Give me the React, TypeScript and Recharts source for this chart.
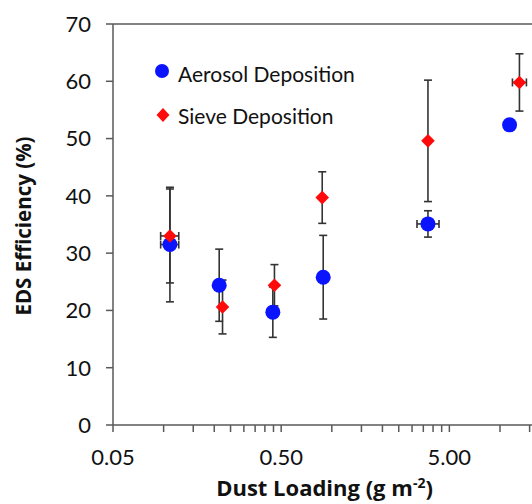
import { ScatterChart, Scatter, XAxis, YAxis, ErrorBar, ReferenceLine, Legend, Label } from "recharts";

// Dust loading (g m-2) and EDS efficiency (%)
const aerosolLoading = [0.109, 0.214, 0.446, 0.889, 3.73, 11.4];
const aerosolEfficiency = [31.5, 24.4, 19.7, 25.8, 35.1, 52.4];
const aerosolEfficiencyErr = [10.0, 6.3, 4.4, 7.3, 2.3, 0];
const aerosolLoadingErr = [[0.013, 0.014], [0, 0], [0, 0], [0, 0], [0.52, 0.61], [0, 0]];

const sieveLoading = [0.109, 0.224, 0.456, 0.877, 3.73, 13.05];
const sieveEfficiency = [33.0, 20.6, 24.4, 39.7, 49.6, 59.8];
const sieveEfficiencyErr = [8.2, 4.7, 3.6, 4.5, 10.6, 5.0];
const sieveLoadingErr = [[0.013, 0.014], [0, 0], [0, 0], [0, 0], [0, 0], [1.19, 1.31]];

const xTicks = [
  0.05, 0.1, 0.15, 0.2, 0.25, 0.3, 0.35, 0.4, 0.45, 0.5,
  1, 1.5, 2, 2.5, 3, 3.5, 4, 4.5, 5, 10, 15,
];
const xLabelTicks = [0.05, 0.5, 5];
const yTicks = [0, 10, 20, 30, 40, 50, 60, 70];

const FONT = "Lato, 'Open Sans', sans-serif";
const TITLE_FONT = "'Open Sans', Lato, sans-serif";
const INK = "#111";
const AXIS = "#595959";
const BAR = "#333";
const BLUE = "#0a14ff";
const RED = "#ff0a0a";

const aerosolData = aerosolLoading.map((x, i) => ({
  x,
  y: aerosolEfficiency[i],
  yErr: aerosolEfficiencyErr[i],
  xErr: aerosolLoadingErr[i],
}));
const sieveData = sieveLoading.map((x, i) => ({
  x,
  y: sieveEfficiency[i],
  yErr: sieveEfficiencyErr[i],
  xErr: sieveLoadingErr[i],
}));

const Dot = (p: any) => <circle cx={p.cx} cy={p.cy} r={7.5} fill={BLUE} />;

const Diamond = (p: any) => {
  const s = 6.8;
  return (
    <polygon
      points={`${p.cx},${p.cy - s} ${p.cx + s},${p.cy} ${p.cx},${p.cy + s} ${p.cx - s},${p.cy}`}
      fill={RED}
    />
  );
};

const XTick = (props: any) => {
  const { x, y, payload } = props;
  if (!xLabelTicks.includes(payload.value)) return <g />;
  return (
    <text x={x} y={y + 33} textAnchor="middle" fontSize={22} fill={INK} fontFamily={FONT}>
      {payload.value.toFixed(2)}
    </text>
  );
};

const LegendBox = () => (
  <svg width={240} height={80}>
    <circle cx={12} cy={16} r={7} fill={BLUE} />
    <text x={28} y={27} fontSize={21} fill={INK} fontFamily={FONT}>
      Aerosol Deposition
    </text>
    <polygon points="13,53 19.5,60 13,67 6.5,60" fill={RED} />
    <text x={28} y={69} fontSize={21} fill={INK} fontFamily={FONT}>
      Sieve Deposition
    </text>
  </svg>
);

export default function App() {
  return (
    <div style={{ position: "absolute", left: 0, top: 0, width: 532, height: 504, background: "#fff", fontFamily: FONT }}>
      <ScatterChart width={532} height={504} margin={{ top: 24, right: 0, bottom: 0, left: 0 }}>
        <XAxis
          type="number"
          dataKey="x"
          scale="log"
          domain={[0.05, 15.5]}
          allowDataOverflow
          ticks={xTicks}
          interval={0}
          tick={<XTick />}
          tickSize={7}
          tickMargin={0}
          height={79}
          stroke={AXIS}
          tickLine={{ stroke: AXIS, strokeWidth: 1.5 }}
          axisLine={{ stroke: AXIS, strokeWidth: 1.5 }}
        >
          <Label
            content={({ viewBox }: any) => (
              <text
                x={viewBox.x + viewBox.width / 2 + 2}
                y={viewBox.y + 71}
                textAnchor="middle"
                fontSize={22}
                fontWeight="bold"
                fill={INK}
                fontFamily={TITLE_FONT}
              >
                Dust Loading (g m
                <tspan fontSize={14} dy={-8}>-2</tspan>
                <tspan dy={8}>)</tspan>
              </text>
            )}
          />
        </XAxis>
        <YAxis
          type="number"
          dataKey="y"
          domain={[0, 70]}
          ticks={yTicks}
          interval={0}
          width={113}
          tickSize={7}
          tickMargin={15}
          tick={{ fontSize: 22, fill: INK, fontFamily: FONT }}
          tickLine={{ stroke: AXIS, strokeWidth: 1.5 }}
          axisLine={{ stroke: AXIS, strokeWidth: 1.5 }}
        >
          <Label
            content={() => (
              <text
                x={23}
                y={226}
                transform="rotate(-90 23 226)"
                textAnchor="middle"
                dominantBaseline="central"
                fontSize={20.5}
                fontWeight="bold"
                fill={INK}
                fontFamily={TITLE_FONT}
              >
                EDS Efficiency (%)
              </text>
            )}
          />
        </YAxis>
        <ReferenceLine y={70} stroke={AXIS} strokeWidth={1.5} />
        <Legend
          layout="vertical"
          align="center"
          verticalAlign="middle"
          content={<LegendBox />}
          wrapperStyle={{ left: 150, top: 55, width: 240, height: 80 }}
        />
        <Scatter name="Aerosol Deposition" data={aerosolData} shape={Dot} isAnimationActive={false}>
          <ErrorBar dataKey="yErr" direction="y" width={4} stroke={BAR} strokeWidth={1.6} />
          <ErrorBar dataKey="xErr" direction="x" width={4} stroke={BAR} strokeWidth={1.6} />
        </Scatter>
        <Scatter name="Sieve Deposition" data={sieveData} shape={Diamond} isAnimationActive={false}>
          <ErrorBar dataKey="yErr" direction="y" width={4} stroke={BAR} strokeWidth={1.6} />
          <ErrorBar dataKey="xErr" direction="x" width={4} stroke={BAR} strokeWidth={1.6} />
        </Scatter>
      </ScatterChart>
    </div>
  );
}
